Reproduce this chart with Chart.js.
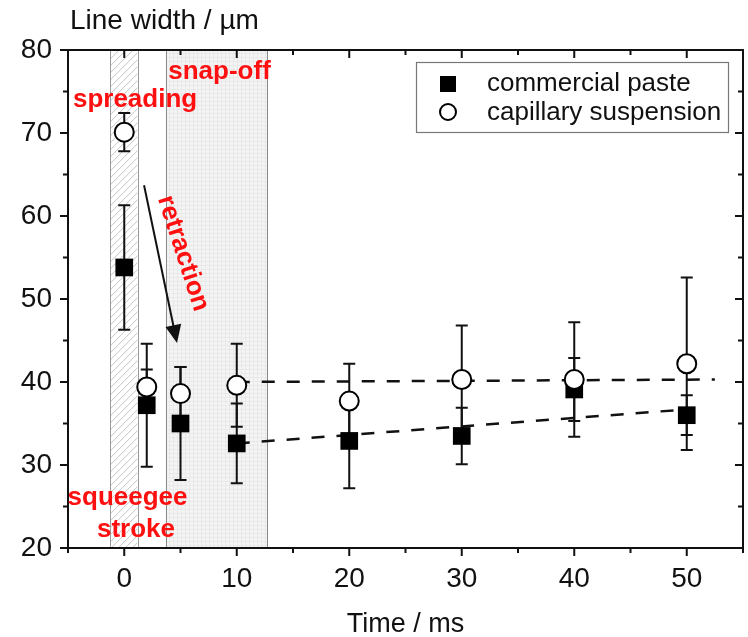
<!DOCTYPE html>
<html>
<head>
<meta charset="utf-8">
<script src="https://cdn.jsdelivr.net/npm/chart.js@4.4.1/dist/chart.umd.min.js"></script>
<style>
  html, body { margin: 0; padding: 0; background: #fff; overflow: hidden; }
  canvas { display: block; }
</style>
</head>
<body>
<canvas id="lineWidthChart" width="748" height="637"></canvas>
<script>
// measured values
const times = [0, 2, 5, 10, 20, 30, 40, 50];
const pasteWidth = [53.8, 37.2, 35.0, 32.6, 32.9, 33.5, 39.1, 36.0];
const pasteErr = [7.5, 7.4, 6.8, 4.8, 5.7, 3.4, 3.8, 2.4];
const suspWidth = [70.1, 39.4, 38.6, 39.6, 37.7, 40.3, 40.3, 42.2];
const suspErr = [2.3, 2.1, 3.2, 5.0, 4.5, 6.5, 6.9, 10.4];

// linear fits (dashed)
const pasteFitX = [10, 50];
const pasteFitY = [32.6, 36.7];
const suspFitX = [10, 52.5];
const suspFitY = [40.0, 40.3];

const xTickValues = [0, 10, 20, 30, 40, 50];
const yTickValues = [20, 30, 40, 50, 60, 70, 80];

// process phases (x ranges in ms)
const strokeRange = [-1.25, 1.2];
const snapOffRange = [3.7, 12.7];

const labels = {
    yTitle: 'Line width / µm',
    xTitle: 'Time / ms',
    paste: 'commercial paste',
    susp: 'capillary suspension'
};

// annotation anchors in data units
const notes = [
    { text: 'spreading', x: 0.96, y: 74.0, rot: 0 },
    { text: 'snap-off', x: 8.47, y: 77.35, rot: 0 },
    { text: 'retraction', x: 5.22, y: 55.5, rot: 72 },
    { text: 'squeegee', x: 0.29, y: 26.0, rot: 0 },
    { text: 'stroke', x: 1.04, y: 22.2, rot: 0 }
];
const arrowFrom = [1.76, 63.7];
const arrowTo = [4.69, 44.7];

const FONT = '"Liberation Sans", Arial, sans-serif';

function toPoints(xs, ys) {
    return xs.map((x, i) => ({ x: x, y: ys[i] }));
}

const decorPlugin = {
    id: 'decor',
    beforeDatasetsDraw(chart) {
        const ctx = chart.ctx;
        const xs = chart.scales.x;
        const ys = chart.scales.y;
        const area = chart.chartArea;

        // snap-off region: light grey with fine grid
        let x0 = xs.getPixelForValue(snapOffRange[0]);
        let x1 = xs.getPixelForValue(snapOffRange[1]);
        ctx.save();
        ctx.fillStyle = '#f4f4f4';
        ctx.fillRect(x0, area.top, x1 - x0, area.bottom - area.top);
        ctx.strokeStyle = '#e9e9e9';
        ctx.lineWidth = 1;
        ctx.beginPath();
        for (let x = x0 + 3; x < x1; x += 4) {
            ctx.moveTo(Math.round(x) + 0.5, area.top);
            ctx.lineTo(Math.round(x) + 0.5, area.bottom);
        }
        for (let y = area.top + 3; y < area.bottom; y += 4) {
            ctx.moveTo(x0, Math.round(y) + 0.5);
            ctx.lineTo(x1, Math.round(y) + 0.5);
        }
        ctx.stroke();
        ctx.strokeStyle = '#8a8a8a';
        ctx.beginPath();
        ctx.moveTo(Math.round(x0) + 0.5, area.top);
        ctx.lineTo(Math.round(x0) + 0.5, area.bottom);
        ctx.moveTo(Math.round(x1) + 0.5, area.top);
        ctx.lineTo(Math.round(x1) + 0.5, area.bottom);
        ctx.stroke();
        ctx.restore();

        // squeegee stroke region: hatched
        x0 = xs.getPixelForValue(strokeRange[0]);
        x1 = xs.getPixelForValue(strokeRange[1]);
        ctx.save();
        ctx.beginPath();
        ctx.rect(x0, area.top, x1 - x0, area.bottom - area.top);
        ctx.clip();
        ctx.strokeStyle = '#c4c4c4';
        ctx.lineWidth = 1;
        ctx.beginPath();
        const h = area.bottom - area.top;
        for (let y = area.top - 40; y < area.bottom + h; y += 7) {
            ctx.moveTo(x0, y);
            ctx.lineTo(x1, y - (x1 - x0));
        }
        ctx.stroke();
        ctx.restore();
        ctx.save();
        ctx.strokeStyle = '#9a9a9a';
        ctx.lineWidth = 1;
        ctx.beginPath();
        ctx.moveTo(Math.round(x0) + 0.5, area.top);
        ctx.lineTo(Math.round(x0) + 0.5, area.bottom);
        ctx.moveTo(Math.round(x1) + 0.5, area.top);
        ctx.lineTo(Math.round(x1) + 0.5, area.bottom);
        ctx.stroke();
        ctx.restore();

        // error bars
        ctx.save();
        ctx.strokeStyle = '#111';
        ctx.lineWidth = 2;
        const drawBars = (vals, errs) => {
            vals.forEach((v, i) => {
                const px = xs.getPixelForValue(times[i]);
                const top = ys.getPixelForValue(v + errs[i]);
                const bot = ys.getPixelForValue(v - errs[i]);
                ctx.beginPath();
                ctx.moveTo(px, top);
                ctx.lineTo(px, bot);
                ctx.moveTo(px - 6, top);
                ctx.lineTo(px + 6, top);
                ctx.moveTo(px - 6, bot);
                ctx.lineTo(px + 6, bot);
                ctx.stroke();
            });
        };
        drawBars(pasteWidth, pasteErr);
        drawBars(suspWidth, suspErr);
        ctx.restore();
    },
    afterDraw(chart) {
        const ctx = chart.ctx;
        const xs = chart.scales.x;
        const ys = chart.scales.y;
        const area = chart.chartArea;

        // frame
        ctx.save();
        ctx.strokeStyle = '#111';
        ctx.lineWidth = 2;
        ctx.strokeRect(area.left, area.top, area.right - area.left, area.bottom - area.top);

        // ticks: bottom/left outward, top/right inward
        ctx.beginPath();
        for (let v = -5; v <= 55; v += 5) {
            const px = xs.getPixelForValue(v);
            const len = v % 10 === 0 ? 8 : 5;
            ctx.moveTo(px, area.bottom);
            ctx.lineTo(px, area.bottom + len);
            ctx.moveTo(px, area.top);
            ctx.lineTo(px, area.top + len);
        }
        for (let v = 20; v <= 80; v += 5) {
            const py = ys.getPixelForValue(v);
            const len = v % 10 === 0 ? 8 : 5;
            ctx.moveTo(area.left, py);
            ctx.lineTo(area.left - len, py);
            ctx.moveTo(area.right, py);
            ctx.lineTo(area.right - len, py);
        }
        ctx.stroke();
        ctx.restore();

        // y title at top left
        ctx.save();
        ctx.fillStyle = '#111';
        ctx.font = '28px ' + FONT;
        ctx.textBaseline = 'alphabetic';
        ctx.textAlign = 'left';
        ctx.fillText(labels.yTitle, area.left + 2, 29);
        ctx.restore();

        // red annotations
        ctx.save();
        ctx.fillStyle = '#ff1010';
        ctx.font = 'bold 26px ' + FONT;
        ctx.textAlign = 'center';
        ctx.textBaseline = 'middle';
        notes.forEach(n => {
            const px = xs.getPixelForValue(n.x);
            const py = ys.getPixelForValue(n.y);
            ctx.save();
            ctx.translate(px, py);
            ctx.rotate(n.rot * Math.PI / 180);
            ctx.fillText(n.text, 0, 0);
            ctx.restore();
        });
        ctx.restore();

        // arrow
        const ax0 = xs.getPixelForValue(arrowFrom[0]);
        const ay0 = ys.getPixelForValue(arrowFrom[1]);
        const ax1 = xs.getPixelForValue(arrowTo[0]);
        const ay1 = ys.getPixelForValue(arrowTo[1]);
        const ang = Math.atan2(ay1 - ay0, ax1 - ax0);
        ctx.save();
        ctx.strokeStyle = '#111';
        ctx.fillStyle = '#111';
        ctx.lineWidth = 2;
        ctx.beginPath();
        ctx.moveTo(ax0, ay0);
        ctx.lineTo(ax1 - 12 * Math.cos(ang), ay1 - 12 * Math.sin(ang));
        ctx.stroke();
        ctx.beginPath();
        ctx.moveTo(ax1, ay1);
        ctx.lineTo(ax1 - 18 * Math.cos(ang) + 8 * Math.sin(ang), ay1 - 18 * Math.sin(ang) - 8 * Math.cos(ang));
        ctx.lineTo(ax1 - 18 * Math.cos(ang) - 8 * Math.sin(ang), ay1 - 18 * Math.sin(ang) + 8 * Math.cos(ang));
        ctx.closePath();
        ctx.fill();
        ctx.restore();

        // legend box
        ctx.save();
        ctx.fillStyle = '#fff';
        ctx.fillRect(416, 62, 312, 70);
        ctx.strokeStyle = '#777';
        ctx.lineWidth = 1.2;
        ctx.strokeRect(416.5, 62.5, 312, 70);
        ctx.fillStyle = '#000';
        ctx.fillRect(440, 76, 16, 16);
        ctx.beginPath();
        ctx.arc(448, 112, 8, 0, Math.PI * 2);
        ctx.fillStyle = '#fff';
        ctx.fill();
        ctx.strokeStyle = '#000';
        ctx.lineWidth = 2;
        ctx.stroke();
        ctx.fillStyle = '#111';
        ctx.font = '26px ' + FONT;
        ctx.textAlign = 'left';
        ctx.textBaseline = 'middle';
        ctx.fillText(labels.paste, 487, 84);
        ctx.fillText(labels.susp, 487, 113);
        ctx.restore();
    }
};

const ctx = document.getElementById('lineWidthChart');

new Chart(ctx, {
    type: 'scatter',
    data: {
        datasets: [
            {
                label: labels.susp,
                data: toPoints(times, suspWidth),
                pointStyle: 'circle',
                pointRadius: 9.5,
                pointHoverRadius: 9.5,
                borderWidth: 2,
                borderColor: '#000',
                backgroundColor: '#fff',
                order: 0
            },
            {
                label: labels.paste,
                data: toPoints(times, pasteWidth),
                pointStyle: 'rect',
                pointRadius: 12.5,
                pointHoverRadius: 12.5,
                borderWidth: 0,
                borderColor: '#000',
                backgroundColor: '#000',
                order: 1
            },
            {
                type: 'line',
                data: toPoints(suspFitX, suspFitY),
                borderColor: '#111',
                borderWidth: 2.5,
                borderDash: [13, 12],
                pointRadius: 0,
                fill: false,
                order: 2
            },
            {
                type: 'line',
                data: toPoints(pasteFitX, pasteFitY),
                borderColor: '#111',
                borderWidth: 2.5,
                borderDash: [13, 12],
                pointRadius: 0,
                fill: false,
                order: 3
            }
        ]
    },
    options: {
        responsive: false,
        animation: false,
        layout: {
            autoPadding: false,
            padding: { top: 50, right: 5, left: 0, bottom: 0 }
        },
        plugins: {
            legend: { display: false },
            tooltip: { enabled: false },
            title: { display: false }
        },
        scales: {
            x: {
                type: 'linear',
                min: -5,
                max: 55,
                afterFit: s => { s.height = 89; s.paddingLeft = 0; s.paddingRight = 0; },
                afterBuildTicks: s => { s.ticks = xTickValues.map(v => ({ value: v })); },
                grid: { display: true, drawOnChartArea: false, drawTicks: true, tickLength: 8, color: 'rgba(0,0,0,0)' },
                border: { display: false },
                ticks: {
                    color: '#111',
                    padding: 6,
                    maxRotation: 0,
                    font: { family: FONT, size: 28 }
                },
                title: {
                    display: true,
                    text: labels.xTitle,
                    color: '#111',
                    font: { family: FONT, size: 27 },
                    padding: { top: 0, bottom: -4 }
                }
            },
            y: {
                type: 'linear',
                min: 20,
                max: 80,
                afterFit: s => { s.width = 68; s.paddingTop = 0; s.paddingBottom = 0; },
                afterBuildTicks: s => { s.ticks = yTickValues.map(v => ({ value: v })); },
                grid: { display: true, drawOnChartArea: false, drawTicks: true, tickLength: 8, color: 'rgba(0,0,0,0)' },
                border: { display: false },
                ticks: {
                    color: '#111',
                    padding: 8,
                    font: { family: FONT, size: 28 }
                }
            }
        }
    },
    plugins: [decorPlugin]
});
</script>
</body>
</html>
